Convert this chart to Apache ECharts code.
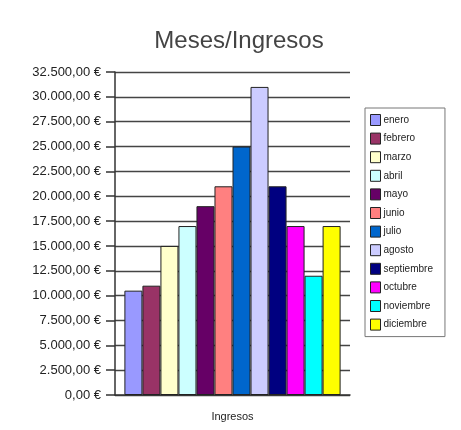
<!DOCTYPE html>
<html>
<head>
<meta charset="utf-8">
<script src="https://cdn.jsdelivr.net/npm/echarts@6/dist/echarts.min.js"></script>
<style>html,body{margin:0;padding:0;background:#fff;}#c{width:461px;height:430px;}</style>
</head>
<body>
<div id="c"></div>
<script>
const categories = ['Ingresos'];
const months = ['enero','febrero','marzo','abril','mayo','junio','julio','agosto','septiembre','octubre','noviembre','diciembre'];
const values = [10500, 11000, 15000, 17000, 19000, 21000, 25000, 31000, 21000, 17000, 12000, 17000];
const colors = ['#9999FF','#993366','#FFFFCC','#CCFFFF','#660066','#FF8080','#0066CC','#CCCCFF','#000080','#FF00FF','#00FFFF','#FFFF00'];

function fmt(v){
  const s = Math.round(v).toString().replace(/\B(?=(\d{3})+(?!\d))/g, '.');
  return s + ',00 €';
}

const chart = echarts.init(document.getElementById('c'), null, {renderer:'canvas'});
chart.setOption({
  animation: false,
  backgroundColor: '#fff',
  title: {
    text: 'Meses/Ingresos', left: 234, top: 24, textAlign: 'center',
    textStyle: {fontFamily: 'Liberation Sans, Arial', fontSize: 24, fontWeight: 'normal', color: '#444'}
  },
  legend: {
    orient: 'vertical', left: 365, top: 108,
    data: months,
    itemWidth: 10, itemHeight: 11, itemGap: 6.6,
    padding: [6, 12, 6, 5],
    borderColor: '#777', borderWidth: 1,
    icon: 'rect',
    textStyle: {fontFamily: 'Liberation Sans, Arial', fontSize: 10, color: '#222', padding: [0,0,0,-2]},
    itemStyle: {borderColor: '#222', borderWidth: 1}
  },
  grid: {left: 115, right: 111, top: 72, bottom: 35},
  xAxis: {
    type: 'category', data: categories,
    axisLine: {lineStyle: {color: '#333', width: 1.5}},
    axisTick: {show: false},
    axisLabel: {fontFamily: 'Liberation Sans, Arial', fontSize: 11, color: '#222', margin: 16}
  },
  yAxis: {
    type: 'value', min: 0, max: 32500, interval: 2500,
    axisLine: {show: true, lineStyle: {color: '#333', width: 1.5}},
    axisTick: {show: true, length: 9, lineStyle: {color: '#333', width: 1.5}},
    splitLine: {lineStyle: {color: '#444', width: 1.3}},
    axisLabel: {formatter: fmt, fontFamily: 'Liberation Sans, Arial', fontSize: 13, color: '#222', margin: 14}
  },
  series: months.map((m, i) => ({
    name: m, type: 'bar',
    data: [values[i]],
    barGap: '0%', barCategoryGap: '8%',
    itemStyle: {color: colors[i], borderColor: '#222', borderWidth: 1}
  }))
});
</script>
</body>
</html>
